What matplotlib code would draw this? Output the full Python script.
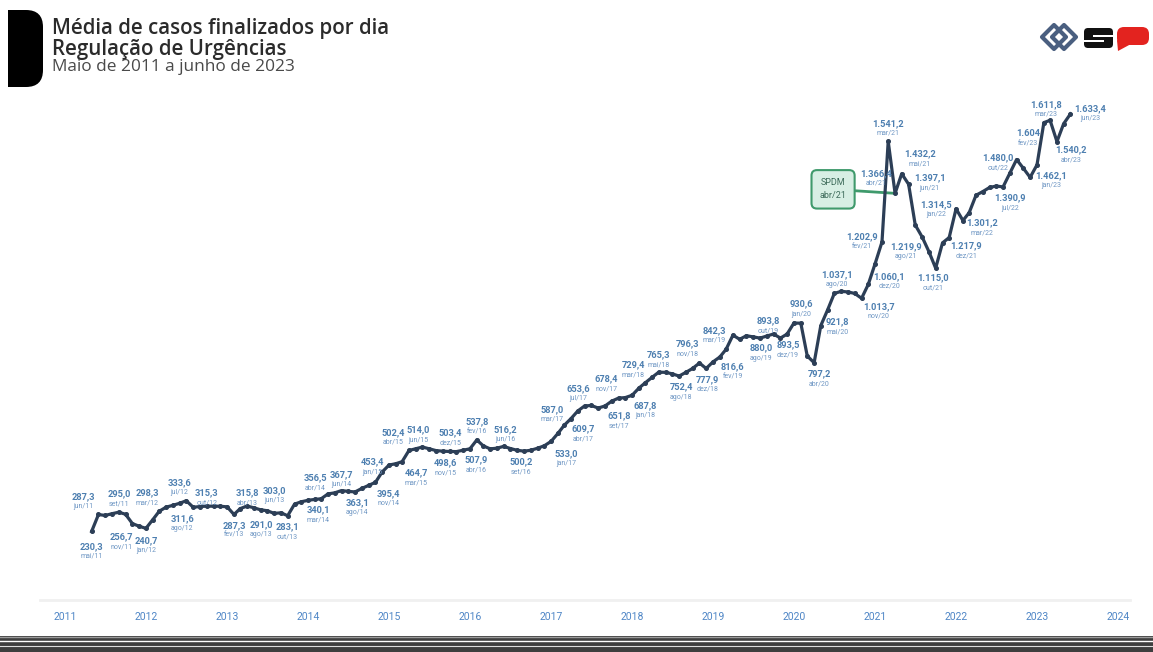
import numpy as np
import pandas as pd
import matplotlib.pyplot as plt
import matplotlib.dates as mdates
from matplotlib.patches import FancyBboxPatch, Rectangle, Polygon

plt.rcParams["font.family"] = ["Roboto", "DejaVu Sans"]

W, H = 1153, 652

MESES = ["jan", "fev", "mar", "abr", "mai", "jun", "jul", "ago", "set", "out", "nov", "dez"]
ANOS = list(range(2011, 2025))

# média de casos finalizados por dia, mai/2011 a jun/2023
casos = [
    # 2011 (mai-dez)
    230.3, 287.3, 284.0, 290.0, 295.0, 288.0, 256.7, 248.0,
    # 2012
    240.7, 270.0, 298.3, 312.0, 318.0, 325.0, 333.6, 311.6, 314.0, 315.3, 315.0, 315.0,
    # 2013
    313.0, 287.3, 307.0, 315.8, 310.0, 303.0, 300.0, 291.0, 293.0, 283.1, 322.0, 330.0,
    # 2014
    335.0, 338.0, 340.1, 356.5, 360.0, 367.7, 365.0, 363.1, 375.0, 385.0, 395.4, 430.0,
    # 2015
    453.4, 458.0, 464.7, 502.4, 508.0, 514.0, 508.0, 502.0, 500.0, 499.0, 498.6, 503.4,
    # 2016
    508.0, 537.8, 518.0, 507.9, 510.0, 516.2, 509.0, 503.0, 500.2, 503.0, 510.0, 518.0,
    # 2017
    533.0, 560.0, 587.0, 609.7, 635.0, 652.0, 653.6, 645.0, 651.8, 668.0, 678.4, 680.0,
    # 2018
    687.8, 712.0, 729.4, 748.0, 765.3, 765.0, 760.0, 752.4, 765.0, 778.0, 796.3, 777.9,
    # 2019
    800.0, 816.6, 842.3, 890.0, 876.0, 888.0, 884.0, 880.0, 887.0, 893.8, 880.0, 893.5,
    # 2020
    930.6, 930.0, 820.0, 797.2, 921.8, 975.0, 1030.0, 1037.1, 1035.0, 1030.0, 1013.7, 1060.1,
    # 2021
    1130.0, 1202.9, 1541.2, 1366.4, 1432.2, 1397.1, 1260.0, 1219.9, 1170.0, 1115.0, 1200.0, 1217.9,
    # 2022
    1314.5, 1275.0, 1301.2, 1360.0, 1372.0, 1386.0, 1390.9, 1388.0, 1435.0, 1480.0, 1450.0, 1420.0,
    # 2023 (jan-jun)
    1462.1, 1604.0, 1611.8, 1540.2, 1600.0, 1633.4,
]
meses = pd.date_range("2011-05-01", periods=len(casos), freq="MS")
serie = pd.Series(casos, index=meses)

# meses com rótulo de valor
rotulos = [
    "2011-05", "2011-06", "2011-09", "2011-11", "2012-01", "2012-03", "2012-07", "2012-08",
    "2012-10", "2013-02", "2013-04", "2013-06", "2013-08", "2013-10", "2014-03", "2014-04",
    "2014-06", "2014-08", "2014-11", "2015-01", "2015-03", "2015-04", "2015-06", "2015-11",
    "2015-12", "2016-02", "2016-04", "2016-06", "2016-09", "2017-01", "2017-03", "2017-04",
    "2017-07", "2017-09", "2017-11", "2018-01", "2018-03", "2018-05", "2018-08", "2018-11",
    "2018-12", "2019-02", "2019-03", "2019-08", "2019-10", "2019-12", "2020-01", "2020-04",
    "2020-05", "2020-08", "2020-11", "2020-12", "2021-02", "2021-03", "2021-04", "2021-05",
    "2021-06", "2021-08", "2021-10", "2021-12", "2022-01", "2022-03", "2022-07", "2022-10",
    "2023-01", "2023-02", "2023-03", "2023-04", "2023-06",
]
sem_decimal = ["2023-02"]

# deslocamento (px) do rótulo em relação ao ponto
offsets = [
    (0, -15), (-15, 18), (0, 18), (-11, -13), (0, -12), (-12, 18), (-7, 18), (-11, -11),
    (0, 13), (0, -11), (0, 13), (14, 19), (-13, -11), (0, -11), (-3, -11), (-13, 16),
    (0, 16), (2, -11), (13, -11), (-17, 3), (14, -11), (-16, 18), (-4, 17), (-11, -11),
    (-13, 17), (0, 18), (-14, -11), (2, 17), (-3, -11), (15, -12), (-12, 16), (12, -10),
    (-13, 17), (14, -10), (-12, 19), (13, -10), (-12, 18), (0, 17), (2, -11), (-12, 19),
    (1, -11), (13, -10), (-12, 19), (1, -10), (-5, 13), (1, -11), (7, 19), (5, -11),
    (17, 4), (-4, 17), (17, -8), (21, 8), (-20, 5), (0, 18), (-19, 20), (18, 20),
    (21, 6), (-16, -10), (-3, -10), (17, -8), (-20, 4), (13, -10), (14, -12), (-19, 2),
    (14, -11), (-16, -11), (-4, 16), (14, -8), (20, 5),
]


def fmt_br(v, casas=1):
    s = f"{v:,.{casas}f}"
    return s.replace(",", "X").replace(".", ",").replace("X", ".")


fig = plt.figure(figsize=(W / 100, H / 100), dpi=100)
fig.patch.set_facecolor("white")

# camada de fundo em pixels para título, logo e faixas
deco = fig.add_axes([0, 0, 1, 1], zorder=0)
deco.set_xlim(0, W)
deco.set_ylim(H, 0)
deco.axis("off")

deco.add_patch(FancyBboxPatch((8, 10), 35, 77, boxstyle="round,pad=0,rounding_size=17",
                              fc="black", ec="none"))
deco.add_patch(Rectangle((8, 10), 18, 77, fc="black", ec="none"))

fonte_titulo = ["Open Sans", "DejaVu Sans"]
deco.text(52, 34, "Média de casos finalizados por dia", fontsize=14.8, fontweight="semibold",
          family=fonte_titulo, color="#2b2b2b", va="baseline")
deco.text(52, 54.5, "Regulação de Urgências", fontsize=14.8, fontweight="semibold",
          family=fonte_titulo, color="#2b2b2b", va="baseline")
deco.text(52, 71, "Maio de 2011 a junho de 2023", fontsize=12.4,
          family=fonte_titulo, color="#4a4a4a", va="baseline")

# logo
for cx in (1054, 1064):
    deco.add_patch(Polygon([(cx, 25), (cx + 12, 37), (cx, 49), (cx - 12, 37)], closed=True,
                           fill=False, ec="#4a5f80", lw=3.0, joinstyle="round"))
deco.add_patch(FancyBboxPatch((1084, 28), 29, 20, boxstyle="round,pad=0,rounding_size=4",
                              fc="#111111", ec="none"))
deco.add_patch(Rectangle((1093, 34.5), 21, 2.2, fc="white", ec="none"))
deco.add_patch(Rectangle((1083, 40), 21, 2.2, fc="white", ec="none"))
deco.add_patch(FancyBboxPatch((1117, 27), 32, 18, boxstyle="round,pad=0,rounding_size=7",
                              fc="#e3231f", ec="none"))
deco.add_patch(Polygon([(1117, 40), (1131, 44), (1118, 51)], closed=True, fc="#e3231f", ec="none"))

# faixas do rodapé
deco.add_patch(Rectangle((0, 636), W, 16, fc="#3e3e3e", ec="none"))
deco.plot([0, W], [636.5, 636.5], color="#9a9a9a", lw=1)
deco.plot([0, W], [641, 641], color="white", lw=1)
deco.plot([0, W], [646, 646], color="#dddddd", lw=0.8)

# gráfico
ax = fig.add_axes([40 / W, 52 / H, 1090 / W, 500 / H], zorder=1)
ax.patch.set_alpha(0)
ax.plot(meses, casos, color="#2c3e56", lw=2.3, marker="o", ms=2.6, zorder=3)

base = mdates.date2num(pd.Timestamp("2011-01-01"))
px_dia = 6.75 * 12 / 365.25
ax.set_xlim(base - 25 / px_dia, base + 1065 / px_dia)
ax.set_ylim(0, 1680)

ax.set_xticks(pd.to_datetime([f"{a}-01-01" for a in ANOS]))
ax.set_xticklabels([str(a) for a in ANOS])
ax.tick_params(axis="x", length=0, pad=9, labelsize=7.5, labelcolor="#4f86c6")
ax.set_yticks([])
for lado in ("top", "left", "right"):
    ax.spines[lado].set_visible(False)
ax.spines["bottom"].set_color("#f0f0f0")
ax.spines["bottom"].set_linewidth(2)

for m, (dx, dy) in zip(rotulos, offsets):
    d = pd.Timestamp(m + "-01")
    v = serie[d]
    xy = (mdates.date2num(d), v)
    txt = fmt_br(v, 0) if m in sem_decimal else fmt_br(v)
    ax.annotate(txt, xy, xytext=(dx, dy), textcoords="offset pixels", ha="center",
                va="center", fontsize=6.7, fontweight="bold", color="#4d7fb0", zorder=4)
    ax.annotate(f"{MESES[d.month - 1]}/{d.year % 100:02d}", xy, xytext=(dx, dy - 10),
                textcoords="offset pixels", ha="center", va="center", fontsize=5,
                color="#6f97c4", zorder=4)

d_spdm = pd.Timestamp("2021-04-01")
ax.annotate("SPDM\nabr/21", (mdates.date2num(d_spdm), serie[d_spdm]), xytext=(-62, 4),
            textcoords="offset pixels", ha="center", va="center", fontsize=6.5,
            color="#3d6b5a", linespacing=1.6,
            bbox=dict(boxstyle="round,pad=0.9,rounding_size=0.6", fc="#d7efe4", ec="#3f9a6c", lw=1.5),
            arrowprops=dict(arrowstyle="-", color="#3f9a6c", lw=2, shrinkA=0, shrinkB=0),
            zorder=2)

fig.savefig("out.png", dpi=100)
